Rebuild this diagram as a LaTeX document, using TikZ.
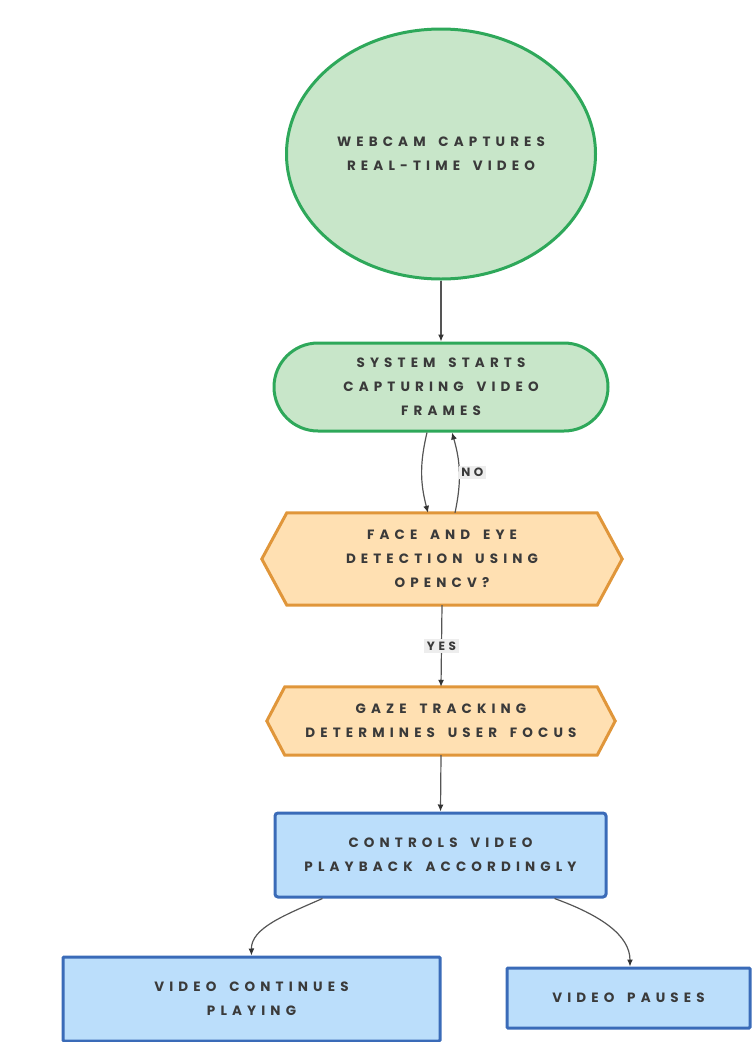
\documentclass[tikz,border=0pt]{standalone}
\usepackage{fontspec}
\setmainfont{Poppins}
\newfontfamily\labfont{Poppins}[LetterSpace=38,WordSpace=1.6]
\newfontfamily\edgefont{Poppins}[LetterSpace=30]
\usetikzlibrary{shapes.misc,shapes.geometric,arrows.meta,backgrounds}
\definecolor{gfill}{HTML}{C8E6C9}
\definecolor{gline}{HTML}{2EA85A}
\definecolor{ofill}{HTML}{FFE0B2}
\definecolor{oline}{HTML}{E0963A}
\definecolor{bfill}{HTML}{BBDEFB}
\definecolor{bline}{HTML}{3A6BB8}
\definecolor{txt}{HTML}{3A3A3A}
\definecolor{conn}{HTML}{555555}
\definecolor{lblbg}{HTML}{EDEDED}
\newcommand\hexpath[2]{\path[hexdraw] (#1.north west) -- (#1.north east) -- ([xshift=#2]#1.east) -- (#1.south east) -- (#1.south west) -- ([xshift=-#2]#1.west) -- cycle;}
\begin{document}
\begin{tikzpicture}[x=1pt,y=-1pt,
  lab/.style={font=\labfont\fontsize{13.5}{24}\selectfont\bfseries, text=txt, align=center},
  startnode/.style={lab, ellipse, draw=gline, fill=gfill, line width=3pt, minimum width=309pt, minimum height=250pt, inner sep=0pt},
  stadium/.style={lab, rounded rectangle, draw=gline, fill=gfill, line width=3pt, minimum width=334pt, minimum height=88pt, inner sep=0pt},
  hexnode/.style={lab, inner sep=0pt},
  hexdraw/.style={draw=oline, fill=ofill, line width=3pt, line join=miter},
  bluebox/.style={lab, rectangle, draw=bline, fill=bfill, line width=3pt, rounded corners=3pt, inner sep=0pt},
  conn/.style={draw=conn, line width=1.2pt, -{Latex[length=7pt,width=6pt,color=black!80]}},
  edgelab/.style={font=\edgefont\fontsize{12}{12}\selectfont\bfseries, text=txt, fill=lblbg, inner sep=2.5pt}
]
\useasboundingbox (0,0) rectangle (753,1042);

\node[startnode] (cam) at (441,154) {WEBCAM CAPTURES\\REAL-TIME VIDEO};
\node[stadium] (sys) at (441,387) {SYSTEM STARTS\\CAPTURING VIDEO\\FRAMES};

\node[hexnode, minimum width=310pt, minimum height=92pt] (face) at (442,559) {FACE AND EYE\\DETECTION USING\\OPENCV?};
\node[hexnode, minimum width=312pt, minimum height=68pt] (gaze) at (441,721) {GAZE TRACKING\\DETERMINES USER FOCUS};
\begin{scope}[on background layer]
  \hexpath{face}{25pt}
  \hexpath{gaze}{18pt}
\end{scope}

\node[bluebox, minimum width=331pt, minimum height=84pt] (ctl) at (440.5,855) {CONTROLS VIDEO\\PLAYBACK ACCORDINGLY};
\node[bluebox, rounded corners=1pt, minimum width=377pt, minimum height=84pt] (cont) at (251.5,999) {VIDEO CONTINUES\\PLAYING};
\node[bluebox, rounded corners=1pt, minimum width=243pt, minimum height=60pt] (pause) at (628.5,998) {VIDEO PAUSES};

\draw[conn] (cam.south) -- (sys.north);
\draw[conn] ([xshift=-14pt]sys.south) to[bend right=14] ([xshift=-14pt]face.north);
\draw[conn] ([xshift=13pt]face.north) to[bend right=14] node[edgelab, right=-1pt, pos=0.5] (no) {NO} ([xshift=11pt]sys.south);
\draw[conn] (face.south) -- node[edgelab] (yes) {YES} (gaze.north);
\draw[conn] (gaze.south) -- (ctl.north);
\draw[conn] ([xshift=-118pt]ctl.south) .. controls (285,915) and (251,928) .. (cont.north);
\draw[conn] ([xshift=114pt]ctl.south) .. controls (600,915) and (630,935) .. ([xshift=1.5pt]pause.north);
\end{tikzpicture}
\end{document}
